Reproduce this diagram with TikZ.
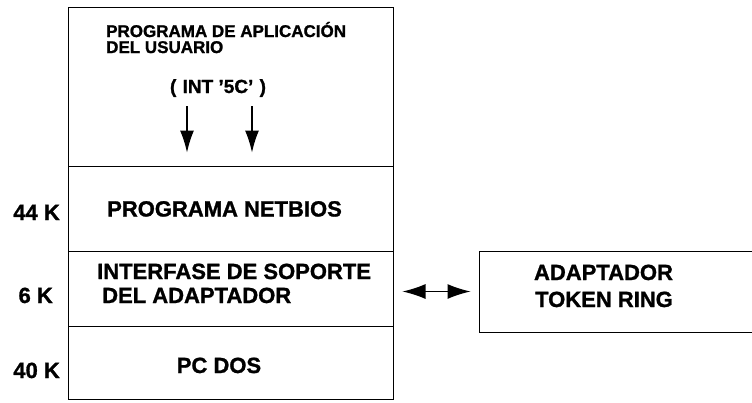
\documentclass[tikz,border=0pt]{standalone}
\usepackage{fontspec}
\setmainfont{Liberation Sans}[BoldFont={Liberation Sans Bold}, BoldFeatures={FakeBold=1.2}]
\usetikzlibrary{arrows.meta}

\tikzset{
  layer/.style={draw, line width=1pt, minimum width=325pt, inner sep=0pt},
  txt/.style={inner sep=0pt, font=\bfseries\fontsize{22}{25}\selectfont},
  small/.style={inner sep=0pt, font=\bfseries\fontsize{17}{20}\selectfont},
  downarrow/.style={line width=1.2pt, -{Latex[length=22pt,width=14pt]}},
  biarrow/.style={line width=1.2pt, {Latex[length=23pt,width=15pt]}-{Latex[length=23pt,width=15pt]}}
}

\begin{document}
\begin{tikzpicture}[x=1pt, y=-1pt]
\useasboundingbox (0, 0) rectangle (752, 402);
% memory layers
\node[layer, minimum height=159pt] (app) at (230.5, 86.5) {};
\node[layer, minimum height=85pt] (netbios) at (230.5, 208.5) {};
\node[layer, minimum height=75pt] (iface) at (230.5, 288.5) {};
\node[layer, minimum height=73pt] (dos) at (230.5, 362.5) {};
\node[draw, line width=1pt, minimum width=281pt, minimum height=81pt, inner sep=0pt] (tr) at (619.5, 291.5) {};
% texts
\node[small, anchor=base west] (app1) at (106, 37) {PROGRAMA DE APLICACIÓN};
\node[small, anchor=base west] (app2) at (106, 53) {DEL USUARIO};
\node[inner sep=0pt, font=\bfseries\fontsize{19}{22}\selectfont, anchor=base] (int) at (218, 93) {(\,\,INT \symbol{"27}5C\symbol{"27}\,\,)};
\node[txt, anchor=base west] (nb) at (107, 216.5) {PROGRAMA NETBIOS};
\node[txt, anchor=base west] (if1) at (97, 279) {INTERFASE DE SOPORTE};
\node[txt, anchor=base west] (if2) at (102, 303) {DEL ADAPTADOR};
\node[txt, anchor=base] (pc) at (219, 373) {PC DOS};
\node[txt, anchor=base east] (k44) at (60, 220) {44 K};
\node[txt, anchor=base east] (k6) at (53, 303) {6 K};
\node[txt, anchor=base east] (k40) at (60, 378) {40 K};
\node[txt, anchor=base] (tr1) at (603.5, 280) {ADAPTADOR};
\node[txt, anchor=base] (tr2) at (604, 307) {TOKEN RING};
% arrows
\draw[downarrow, shorten <=9pt, shorten >=14pt] ([xshift=-31pt]int.south) -- ([xshift=-31pt]int.south |- app.south);
\draw[downarrow, shorten <=9pt, shorten >=14pt] ([xshift=34pt]int.south) -- ([xshift=34pt]int.south |- app.south);
\draw[biarrow, shorten <=9pt, shorten >=8pt] (iface.east |- tr.west) -- (tr.west);
\end{tikzpicture}
\end{document}
